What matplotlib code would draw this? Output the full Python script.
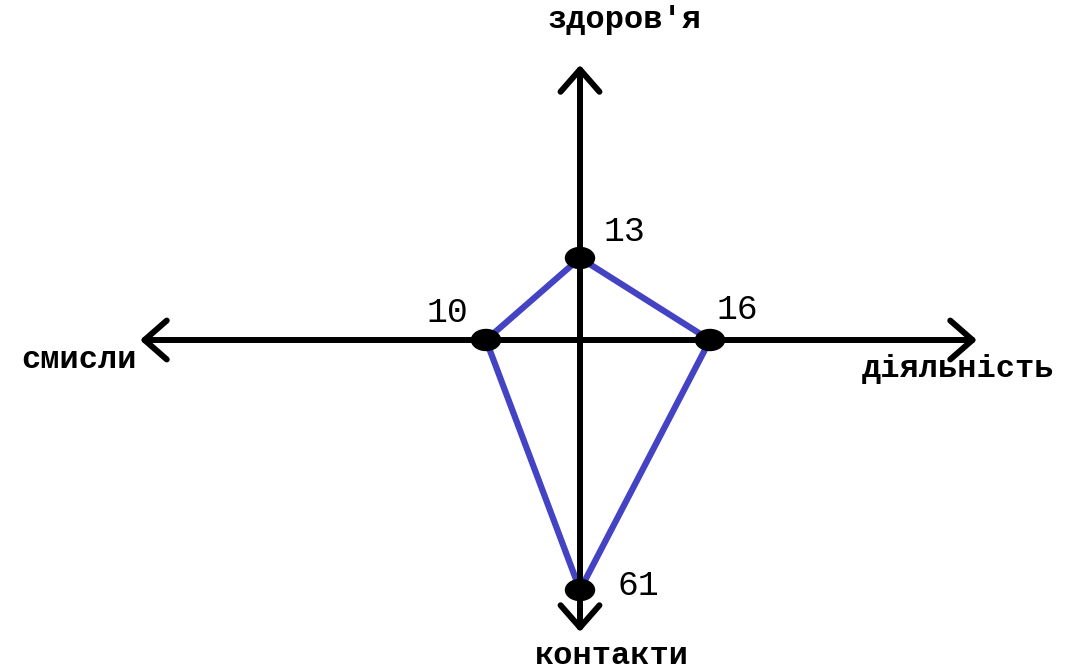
"""
Cross diagram: four life spheres with scores joined by a blue outline.
"""
import matplotlib
matplotlib.use('Agg')
import matplotlib.pyplot as plt
from matplotlib.patches import Ellipse

# axis names, going up / right / down / left
spheres = ["здоров'я", "діяльність", "контакти", "смисли"]
scores = [13, 16, 61, 10]
# how far each dot sits from the centre (px)
reach = [82, 130, 250, 94]
directions = [(0, 1), (1, 0), (0, -1), (-1, 0)]

FONT = ['Liberation Mono', 'DejaVu Sans Mono']
BLUE = '#4343c4'

fig = plt.figure(figsize=(10.76, 6.70), dpi=100)
ax = fig.add_axes([0, 0, 1, 1])
ax.set_xlim(-580, 496)
ax.set_ylim(-330, 340)
ax.axis('off')

# axis arrows (length of each arm, same order as directions)
arm = [275, 397, 292, 440]
for (dx, dy), length in zip(directions, arm):
    ax.annotate('', xy=(dx * length, dy * length), xytext=(0, 0),
                arrowprops=dict(arrowstyle='->,head_length=0.8,head_width=0.7',
                                lw=4.3, color='black', mutation_scale=20,
                                shrinkA=0, shrinkB=0, capstyle='round'),
                zorder=3)

xs = [dx * r for (dx, dy), r in zip(directions, reach)]
ys = [dy * r for (dx, dy), r in zip(directions, reach)]
ax.plot(xs + xs[:1], ys + ys[:1], color=BLUE, lw=4.5, solid_capstyle='round',
        solid_joinstyle='round', zorder=2)

for x, y in zip(xs, ys):
    ax.add_patch(Ellipse((x, y), 29, 21, color='black', zorder=4))

# score labels, offset from each dot (points)
offsets = [(32, 19), (20, 22), (42, 3), (-28, 20)]
for x, y, s, off in zip(xs, ys, scores, offsets):
    ax.annotate(str(s), (x, y), xytext=off, textcoords='offset points',
                ha='center', va='center', fontsize=25, family=FONT)

# sphere names near the arrow tips
name_pos = [(44, 320), (378, -29), (32, -316), (-501, -20)]
for name, (x, y) in zip(spheres, name_pos):
    ax.text(x, y, name, ha='center', va='center', fontsize=23,
            fontweight='bold', family=FONT)

fig.savefig('out.png', dpi=100)
